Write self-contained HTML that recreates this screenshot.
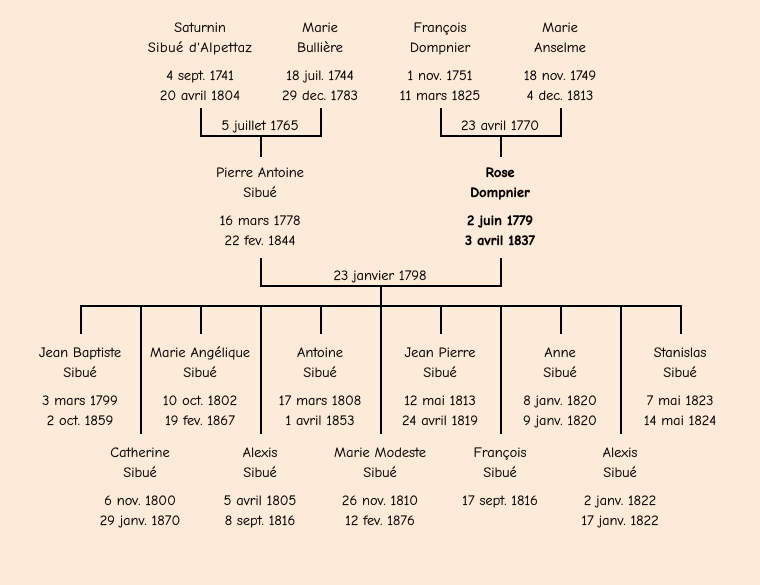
<!DOCTYPE html>
<html><head><meta charset="utf-8">
<style>
html,body{margin:0;padding:0;background:#fdebd9;width:760px;height:585px;overflow:hidden}
.t,.m{position:absolute;width:160px;text-align:center;font:14.4px/20px "Comic Sans MS","Comic Neue","Comic Relief",cursive;color:#000;white-space:nowrap;-webkit-text-stroke:0.15px #000}
.t p{margin:0}
.t p.g{margin-top:8px}
.b{font-weight:bold;-webkit-text-stroke:0.4px #000}
svg{position:absolute;left:0;top:0}
</style></head><body>
<svg width="760" height="585" fill="none" stroke="#000" stroke-width="2" shape-rendering="crispEdges">
<path d="M201 108V136H321V108M261 136V157"/>
<path d="M441 108V136H561V108M501 136V157"/>
<path d="M261 258V286H501V258M381 286V306"/>
<path d="M81 334V306H681V334M201 306V334M321 306V334M441 306V334M561 306V334"/>
<path d="M141 306V434M261 306V434M381 306V434M501 306V434M621 306V434"/>
</svg>
<div class="t" style="left:120px;top:18px"><p>Saturnin</p><p style="letter-spacing:.5px">Sibué d'Alpettaz</p><p class="g">4 sept. 1741</p><p>20 avril 1804</p></div>
<div class="t" style="left:240px;top:18px"><p>Marie</p><p>Bullière</p><p class="g">18 juil. 1744</p><p>29 dec. 1783</p></div>
<div class="t" style="left:360px;top:18px"><p>François</p><p>Dompnier</p><p class="g">1 nov. 1751</p><p>11 mars 1825</p></div>
<div class="t" style="left:480px;top:18px"><p>Marie</p><p>Anselme</p><p class="g">18 nov. 1749</p><p>4 dec. 1813</p></div>
<div class="m" style="left:180px;top:116px">5 juillet 1765</div>
<div class="m" style="left:420px;top:116px">23 avril 1770</div>
<div class="t" style="left:180px;top:163px"><p>Pierre Antoine</p><p>Sibué</p><p class="g">16 mars 1778</p><p>22 fev. 1844</p></div>
<div class="t b" style="left:420px;top:163px"><p>Rose</p><p>Dompnier</p><p class="g">2 juin 1779</p><p>3 avril 1837</p></div>
<div class="m" style="left:300px;top:266px">23 janvier 1798</div>
<div class="t" style="left:0px;top:343px"><p>Jean Baptiste</p><p>Sibué</p><p class="g">3 mars 1799</p><p>2 oct. 1859</p></div>
<div class="t" style="left:120px;top:343px"><p>Marie Angélique</p><p>Sibué</p><p class="g">10 oct. 1802</p><p>19 fev. 1867</p></div>
<div class="t" style="left:240px;top:343px"><p>Antoine</p><p>Sibué</p><p class="g">17 mars 1808</p><p>1 avril 1853</p></div>
<div class="t" style="left:360px;top:343px"><p>Jean Pierre</p><p>Sibué</p><p class="g">12 mai 1813</p><p>24 avril 1819</p></div>
<div class="t" style="left:480px;top:343px"><p>Anne</p><p>Sibué</p><p class="g">8 janv. 1820</p><p>9 janv. 1820</p></div>
<div class="t" style="left:600px;top:343px"><p>Stanislas</p><p>Sibué</p><p class="g">7 mai 1823</p><p>14 mai 1824</p></div>
<div class="t" style="left:60px;top:443px"><p>Catherine</p><p>Sibué</p><p class="g">6 nov. 1800</p><p>29 janv. 1870</p></div>
<div class="t" style="left:180px;top:443px"><p>Alexis</p><p>Sibué</p><p class="g">5 avril 1805</p><p>8 sept. 1816</p></div>
<div class="t" style="left:300px;top:443px"><p>Marie Modeste</p><p>Sibué</p><p class="g">26 nov. 1810</p><p>12 fev. 1876</p></div>
<div class="t" style="left:420px;top:443px"><p>François</p><p>Sibué</p><p class="g">17 sept. 1816</p></div>
<div class="t" style="left:540px;top:443px"><p>Alexis</p><p>Sibué</p><p class="g">2 janv. 1822</p><p>17 janv. 1822</p></div>
</body></html>
